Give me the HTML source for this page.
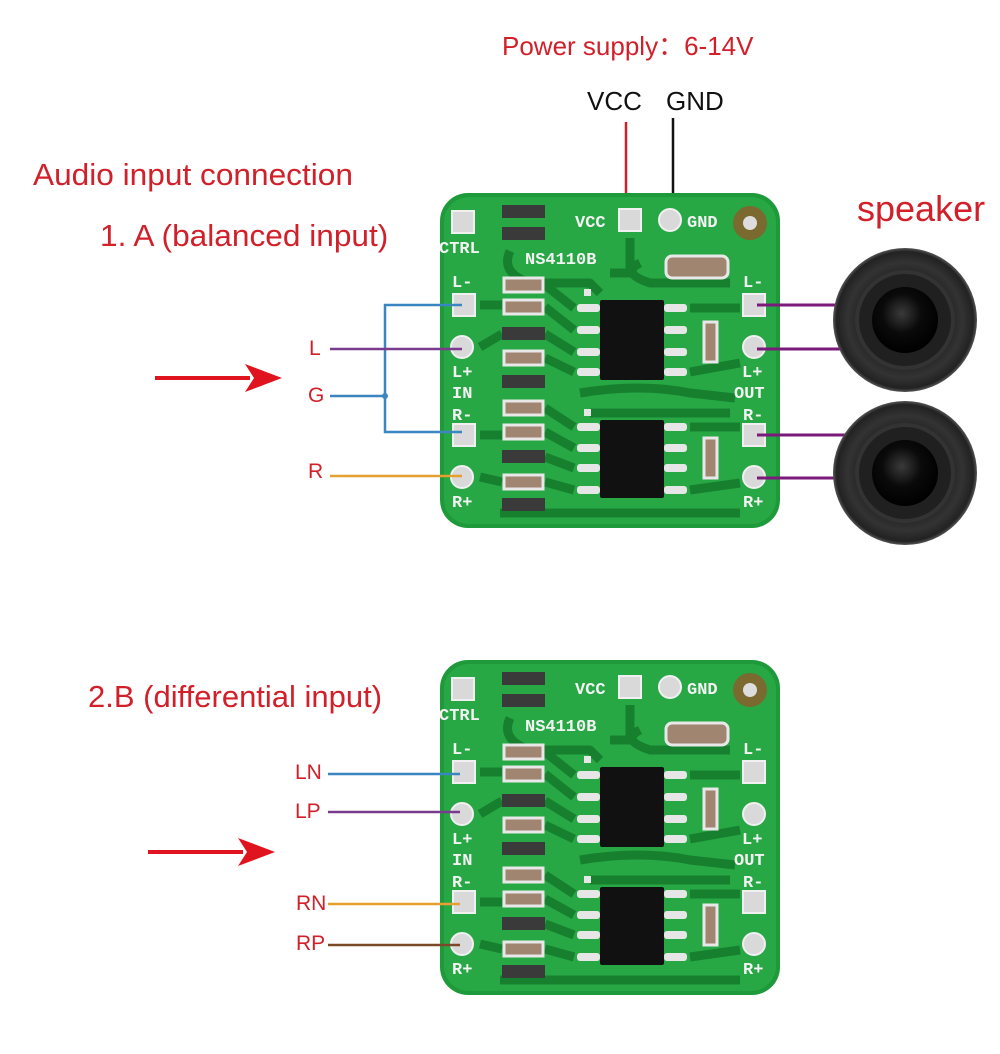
<!DOCTYPE html>
<html><head><meta charset="utf-8"><style>
html,body{margin:0;padding:0;background:#fff;}
body{width:1000px;height:1054px;position:relative;overflow:hidden;font-family:"Liberation Sans",sans-serif;}
.t{position:absolute;white-space:nowrap;color:#d2202a;}
</style></head><body>
<svg width="1000" height="1054" style="position:absolute;left:0;top:0" xmlns="http://www.w3.org/2000/svg">
<defs>
<radialGradient id="dome" cx="45%" cy="40%" r="60%"><stop offset="0" stop-color="#3a3a3a"/><stop offset="0.5" stop-color="#0a0a0a"/><stop offset="1" stop-color="#000"/></radialGradient>
<radialGradient id="spk" cx="50%" cy="50%" r="50%"><stop offset="0.5" stop-color="#1a1a1a"/><stop offset="0.8" stop-color="#333"/><stop offset="0.95" stop-color="#222"/><stop offset="1" stop-color="#555"/></radialGradient>
</defs>

<line x1="626" y1="122" x2="626" y2="222" stroke="#d2202a" stroke-width="2.5"/>
<line x1="673" y1="118" x2="673" y2="222" stroke="#111" stroke-width="2.5"/>

<line x1="155" y1="378" x2="250" y2="378" stroke="#e0141e" stroke-width="4"/>
<polygon points="245,364 282,378 245,392 254,378" fill="#e0141e"/>
<line x1="148" y1="852" x2="243" y2="852" stroke="#e0141e" stroke-width="4"/>
<polygon points="238,838 275,852 238,866 247,852" fill="#e0141e"/>

<g transform="translate(440,193)">
<rect x="0" y="0" width="340" height="335" rx="28" fill="#1f9a3a"/>
<rect x="4" y="4" width="332" height="327" rx="25" fill="#27a845"/>
<g stroke="#17802f" stroke-width="9" fill="none" stroke-linejoin="round">
<path d="M40,112 H62 M40,154 L62,141 M40,242 H62 M40,284 L62,289"/>
<path d="M105,92 L134,115 M105,114 L134,137 M105,141 L134,159 M105,165 L134,179"/>
<path d="M105,215 L134,234 M105,239 L134,255 M105,264 L134,275 M105,289 L134,297"/>
<path d="M250,115 H300 M250,179 L300,170 M250,234 H300 M250,297 L300,290"/>
<path d="M70,58 Q60,80 90,90 H150 L160,100 M190,45 V80 H170"/>
<path d="M140,200 Q200,190 250,200 L295,205 M150,220 H290"/>
<path d="M200,70 Q180,80 210,90 H290 M60,320 H300"/>
</g>
<g fill="#d9d9d9" stroke="#f0f0f0" stroke-width="2">
<rect x="12" y="18" width="22" height="22"/>
<rect x="13" y="101" width="22" height="22"/><rect x="13" y="231" width="22" height="22"/>
<rect x="303" y="101" width="22" height="22"/><rect x="303" y="231" width="22" height="22"/>
<rect x="179" y="16" width="22" height="22"/>
<circle cx="22" cy="154" r="11"/><circle cx="22" cy="284" r="11"/>
<circle cx="314" cy="154" r="11"/><circle cx="314" cy="284" r="11"/>
<circle cx="230" cy="27" r="11"/>
</g>
<circle cx="310" cy="30" r="17" fill="#7a6a30"/><circle cx="310" cy="30" r="7" fill="#ddd"/>
<g fill="#3a3a3a">
<rect x="62" y="12" width="43" height="13"/><rect x="62" y="34" width="43" height="13"/>
<rect x="62" y="134" width="43" height="13"/><rect x="62" y="182" width="43" height="13"/>
<rect x="62" y="257" width="43" height="13"/><rect x="62" y="305" width="43" height="13"/>
</g>
<g fill="#a08570" stroke="#e8e8e8" stroke-width="3">
<rect x="64" y="85" width="39" height="14"/><rect x="64" y="107" width="39" height="14"/>
<rect x="64" y="158" width="39" height="14"/><rect x="64" y="208" width="39" height="14"/>
<rect x="64" y="232" width="39" height="14"/><rect x="64" y="282" width="39" height="14"/>
<rect x="226" y="63" width="62" height="22" rx="6"/>
<rect x="264" y="129" width="13" height="40"/><rect x="264" y="245" width="13" height="40"/>
</g>
<g fill="#111"><rect x="160" y="107" width="64" height="80" rx="2"/><rect x="160" y="227" width="64" height="78" rx="2"/></g>
<g fill="#e6e6e6">
<rect x="137" y="111" width="23" height="8" rx="3"/><rect x="137" y="133" width="23" height="8" rx="3"/><rect x="137" y="155" width="23" height="8" rx="3"/><rect x="137" y="175" width="23" height="8" rx="3"/>
<rect x="224" y="111" width="23" height="8" rx="3"/><rect x="224" y="133" width="23" height="8" rx="3"/><rect x="224" y="155" width="23" height="8" rx="3"/><rect x="224" y="175" width="23" height="8" rx="3"/>
<rect x="137" y="230" width="23" height="8" rx="3"/><rect x="137" y="251" width="23" height="8" rx="3"/><rect x="137" y="271" width="23" height="8" rx="3"/><rect x="137" y="293" width="23" height="8" rx="3"/>
<rect x="224" y="230" width="23" height="8" rx="3"/><rect x="224" y="251" width="23" height="8" rx="3"/><rect x="224" y="271" width="23" height="8" rx="3"/><rect x="224" y="293" width="23" height="8" rx="3"/>
<rect x="144" y="96" width="7" height="7"/><rect x="144" y="216" width="7" height="7"/>
</g>
<g font-family="Liberation Mono,monospace" font-weight="bold" font-size="17" fill="#f2f2f2">
<text x="-1" y="60">CTRL</text><text x="85" y="71">NS4110B</text>
<text x="135" y="34">VCC</text><text x="247" y="34">GND</text>
<text x="12" y="94">L-</text><text x="12" y="184">L+</text><text x="12" y="205">IN</text><text x="12" y="227">R-</text><text x="12" y="314">R+</text>
<text x="303" y="94">L-</text><text x="302" y="184">L+</text><text x="294" y="205">OUT</text><text x="303" y="227">R-</text><text x="303" y="314">R+</text>
</g>
</g>

<g transform="translate(440,660)">
<rect x="0" y="0" width="340" height="335" rx="28" fill="#1f9a3a"/>
<rect x="4" y="4" width="332" height="327" rx="25" fill="#27a845"/>
<g stroke="#17802f" stroke-width="9" fill="none" stroke-linejoin="round">
<path d="M40,112 H62 M40,154 L62,141 M40,242 H62 M40,284 L62,289"/>
<path d="M105,92 L134,115 M105,114 L134,137 M105,141 L134,159 M105,165 L134,179"/>
<path d="M105,215 L134,234 M105,239 L134,255 M105,264 L134,275 M105,289 L134,297"/>
<path d="M250,115 H300 M250,179 L300,170 M250,234 H300 M250,297 L300,290"/>
<path d="M70,58 Q60,80 90,90 H150 L160,100 M190,45 V80 H170"/>
<path d="M140,200 Q200,190 250,200 L295,205 M150,220 H290"/>
<path d="M200,70 Q180,80 210,90 H290 M60,320 H300"/>
</g>
<g fill="#d9d9d9" stroke="#f0f0f0" stroke-width="2">
<rect x="12" y="18" width="22" height="22"/>
<rect x="13" y="101" width="22" height="22"/><rect x="13" y="231" width="22" height="22"/>
<rect x="303" y="101" width="22" height="22"/><rect x="303" y="231" width="22" height="22"/>
<rect x="179" y="16" width="22" height="22"/>
<circle cx="22" cy="154" r="11"/><circle cx="22" cy="284" r="11"/>
<circle cx="314" cy="154" r="11"/><circle cx="314" cy="284" r="11"/>
<circle cx="230" cy="27" r="11"/>
</g>
<circle cx="310" cy="30" r="17" fill="#7a6a30"/><circle cx="310" cy="30" r="7" fill="#ddd"/>
<g fill="#3a3a3a">
<rect x="62" y="12" width="43" height="13"/><rect x="62" y="34" width="43" height="13"/>
<rect x="62" y="134" width="43" height="13"/><rect x="62" y="182" width="43" height="13"/>
<rect x="62" y="257" width="43" height="13"/><rect x="62" y="305" width="43" height="13"/>
</g>
<g fill="#a08570" stroke="#e8e8e8" stroke-width="3">
<rect x="64" y="85" width="39" height="14"/><rect x="64" y="107" width="39" height="14"/>
<rect x="64" y="158" width="39" height="14"/><rect x="64" y="208" width="39" height="14"/>
<rect x="64" y="232" width="39" height="14"/><rect x="64" y="282" width="39" height="14"/>
<rect x="226" y="63" width="62" height="22" rx="6"/>
<rect x="264" y="129" width="13" height="40"/><rect x="264" y="245" width="13" height="40"/>
</g>
<g fill="#111"><rect x="160" y="107" width="64" height="80" rx="2"/><rect x="160" y="227" width="64" height="78" rx="2"/></g>
<g fill="#e6e6e6">
<rect x="137" y="111" width="23" height="8" rx="3"/><rect x="137" y="133" width="23" height="8" rx="3"/><rect x="137" y="155" width="23" height="8" rx="3"/><rect x="137" y="175" width="23" height="8" rx="3"/>
<rect x="224" y="111" width="23" height="8" rx="3"/><rect x="224" y="133" width="23" height="8" rx="3"/><rect x="224" y="155" width="23" height="8" rx="3"/><rect x="224" y="175" width="23" height="8" rx="3"/>
<rect x="137" y="230" width="23" height="8" rx="3"/><rect x="137" y="251" width="23" height="8" rx="3"/><rect x="137" y="271" width="23" height="8" rx="3"/><rect x="137" y="293" width="23" height="8" rx="3"/>
<rect x="224" y="230" width="23" height="8" rx="3"/><rect x="224" y="251" width="23" height="8" rx="3"/><rect x="224" y="271" width="23" height="8" rx="3"/><rect x="224" y="293" width="23" height="8" rx="3"/>
<rect x="144" y="96" width="7" height="7"/><rect x="144" y="216" width="7" height="7"/>
</g>
<g font-family="Liberation Mono,monospace" font-weight="bold" font-size="17" fill="#f2f2f2">
<text x="-1" y="60">CTRL</text><text x="85" y="71">NS4110B</text>
<text x="135" y="34">VCC</text><text x="247" y="34">GND</text>
<text x="12" y="94">L-</text><text x="12" y="184">L+</text><text x="12" y="205">IN</text><text x="12" y="227">R-</text><text x="12" y="314">R+</text>
<text x="303" y="94">L-</text><text x="302" y="184">L+</text><text x="294" y="205">OUT</text><text x="303" y="227">R-</text><text x="303" y="314">R+</text>
</g>
</g>

<polyline points="462,305 385,305 385,432 462,432" fill="none" stroke="#3a86c0" stroke-width="2.5"/>
<line x1="330" y1="396" x2="385" y2="396" stroke="#3a86c0" stroke-width="2.5"/>
<circle cx="385" cy="396" r="3" fill="#3a86c0"/>
<line x1="330" y1="349" x2="462" y2="349" stroke="#7a3a8e" stroke-width="2.5"/>
<line x1="330" y1="476" x2="462" y2="476" stroke="#e4a030" stroke-width="2.5"/>

<line x1="328" y1="774" x2="460" y2="774" stroke="#3a86c0" stroke-width="2.5"/>
<line x1="328" y1="812" x2="460" y2="812" stroke="#7a3a8e" stroke-width="2.5"/>
<line x1="328" y1="904" x2="460" y2="904" stroke="#e4a030" stroke-width="2.5"/>
<line x1="328" y1="945" x2="460" y2="945" stroke="#7a4a28" stroke-width="2.5"/>

<g stroke="#7a1a7a" stroke-width="3">
<line x1="757" y1="305" x2="840" y2="305"/><line x1="757" y1="349" x2="840" y2="349"/>
<line x1="757" y1="435" x2="845" y2="435"/><line x1="757" y1="478" x2="840" y2="478"/>
</g>

<circle cx="905" cy="320" r="72" fill="url(#spk)"/>
<circle cx="905" cy="320" r="48" fill="#202020" stroke="#333" stroke-width="4"/>
<circle cx="905" cy="320" r="33" fill="url(#dome)"/>
<circle cx="905" cy="473" r="72" fill="url(#spk)"/>
<circle cx="905" cy="473" r="48" fill="#202020" stroke="#333" stroke-width="4"/>
<circle cx="905" cy="473" r="33" fill="url(#dome)"/>
</svg>

<div class="t" style="left:502px;top:26px;font-size:26px;">Power supply：6-14V</div>
<div class="t" style="left:587px;top:86px;font-size:26px;color:#111;">VCC</div>
<div class="t" style="left:666px;top:86px;font-size:26px;color:#111;">GND</div>
<div class="t" style="left:33px;top:157px;font-size:31px;transform:scaleX(1.02);transform-origin:left;">Audio input connection</div>
<div class="t" style="left:100px;top:218px;font-size:31px;transform:scaleX(1.02);transform-origin:left;">1. A (balanced input)</div>
<div class="t" style="left:857px;top:188px;font-size:36px;">speaker</div>
<div class="t" style="left:88px;top:679px;font-size:31px;">2.B (differential input)</div>
<div class="t" style="left:309px;top:337px;font-size:21px;">L</div>
<div class="t" style="left:308px;top:384px;font-size:21px;">G</div>
<div class="t" style="left:308px;top:460px;font-size:21px;">R</div>
<div class="t" style="left:295px;top:761px;font-size:21px;">LN</div>
<div class="t" style="left:295px;top:800px;font-size:21px;">LP</div>
<div class="t" style="left:296px;top:892px;font-size:21px;">RN</div>
<div class="t" style="left:296px;top:932px;font-size:21px;">RP</div>
</body></html>
